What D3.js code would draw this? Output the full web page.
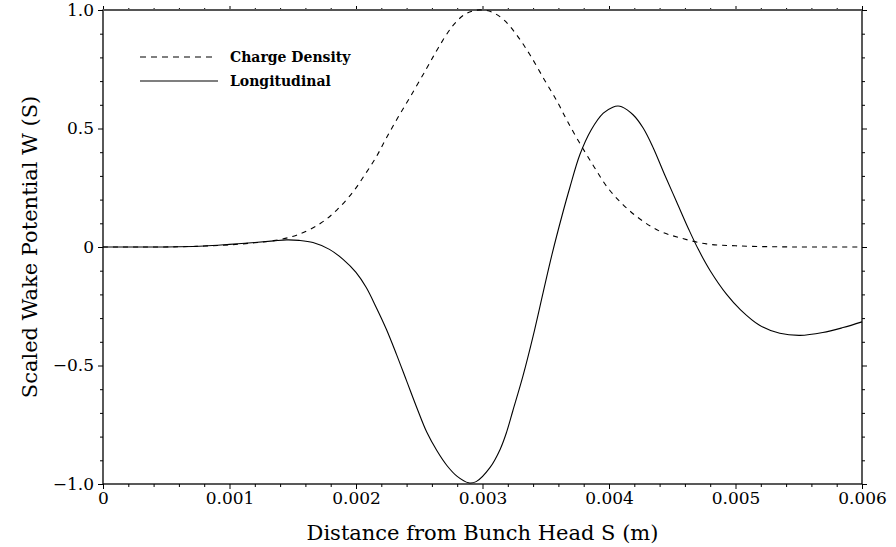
<!DOCTYPE html>
<html>
<head>
<meta charset="utf-8">
<script src="https://cdn.jsdelivr.net/npm/d3@7"></script>
<style>
  body { margin: 0; background: #fff; }
  svg { display: block; }
</style>
</head>
<body>
<div id="wake-chart"></div>
<script>
// Distance from bunch head, in mm (converted to m below)
const chargeS = [0, 0.3, 0.6, 0.8, 1.0, 1.2, 1.35, 1.53, 1.72, 1.85, 1.98, 2.07, 2.16, 2.24, 2.33, 2.43,
  2.56, 2.65, 2.76, 2.85, 2.93, 3.0, 3.08, 3.17, 3.27, 3.375, 3.49, 3.59, 3.665, 3.76, 3.88, 3.99,
  4.11, 4.25, 4.40, 4.56, 4.77, 5.0, 5.3, 5.6, 6.0];
const chargeW = [0, 0, 0.001, 0.004, 0.009, 0.018, 0.027, 0.05, 0.10, 0.157, 0.235, 0.305, 0.38, 0.46, 0.545, 0.635,
  0.755, 0.84, 0.93, 0.978, 0.997, 1.0, 0.99, 0.958, 0.895, 0.811, 0.705, 0.614, 0.537, 0.446, 0.34, 0.25,
  0.179, 0.116, 0.067, 0.039, 0.013, 0.005, 0.001, 0, 0];

const longS = [0, 0.3, 0.6, 0.8, 1.0, 1.2, 1.35, 1.45, 1.55, 1.66, 1.79, 1.9, 2.0, 2.08, 2.16, 2.24, 2.32,
  2.40, 2.48, 2.56, 2.64, 2.72, 2.80, 2.89, 2.95, 3.06, 3.14, 3.19, 3.24, 3.32, 3.40, 3.48, 3.55,
  3.63, 3.69, 3.77, 3.86, 3.955, 4.03, 4.07, 4.10, 4.19, 4.27, 4.35, 4.44, 4.535, 4.63, 4.706,
  4.80, 4.93, 5.04, 5.19, 5.35, 5.51, 5.69, 5.85, 6.0];
const longW = [0, 0, 0.001, 0.004, 0.011, 0.019, 0.026, 0.03, 0.028, 0.019, -0.01, -0.053, -0.107, -0.17, -0.255, -0.347, -0.453,
  -0.565, -0.677, -0.782, -0.86, -0.923, -0.968, -0.995, -0.99, -0.93, -0.853, -0.782, -0.691, -0.544, -0.376, -0.19, -0.03,
  0.135, 0.25, 0.39, 0.495, 0.565, 0.59, 0.595, 0.592, 0.558, 0.502, 0.418, 0.305, 0.19, 0.075, -0.01,
  -0.10, -0.20, -0.265, -0.33, -0.364, -0.373, -0.361, -0.34, -0.316];

const xMajor = [0, 0.001, 0.002, 0.003, 0.004, 0.005, 0.006];
const xLabels = ["0", "0.001", "0.002", "0.003", "0.004", "0.005", "0.006"];
const yMajor = [-1, -0.5, 0, 0.5, 1];
const yLabels = ["\u22121.0", "\u22120.5", "0", "0.5", "1.0"];

const legendNames = ["Charge Density", "Longitudinal"];

const width = 896;
const height = 547;
const marginTop = 10;
const marginRight = 34;
const marginBottom = 63;
const marginLeft = 103;

const x = d3.scaleLinear([0, 0.006], [marginLeft, width - marginRight]);
const y = d3.scaleLinear([-1, 1], [height - marginBottom, marginTop]);

const xMinor = d3.range(0, 31).map(i => i * 0.0002).filter(v => !xMajor.some(m => Math.abs(m - v) < 1e-9));
const yMinor = d3.range(-10, 11).map(i => i / 10).filter(v => !yMajor.some(m => Math.abs(m - v) < 1e-9));

const svg = d3.select("div#wake-chart")
  .append("svg")
  .attr("width", width)
  .attr("height", height)
  .attr("viewBox", [0, 0, width, height]);

const font = "'DejaVu Serif', serif";

// ticks on all four sides, pointing outward
const tickAxis = (axisFn, scale, values, size, transform) => {
  svg.append("g")
    .attr("transform", transform)
    .call(axisFn(scale).tickValues(values).tickSize(size).tickFormat(""))
    .call(g => g.select(".domain").remove())
    .call(g => g.selectAll(".tick line").attr("stroke", "#000").attr("stroke-width", 1));
};
const bottomY = height - marginBottom;
const rightX = width - marginRight;
tickAxis(d3.axisBottom, x, xMinor, 3, `translate(0,${bottomY})`);
tickAxis(d3.axisBottom, x, xMajor, 5, `translate(0,${bottomY})`);
tickAxis(d3.axisTop, x, xMinor, 2, `translate(0,${marginTop})`);
tickAxis(d3.axisTop, x, xMajor, 4, `translate(0,${marginTop})`);
tickAxis(d3.axisLeft, y, yMinor, 3, `translate(${marginLeft},0)`);
tickAxis(d3.axisLeft, y, yMajor, 5, `translate(${marginLeft},0)`);
tickAxis(d3.axisRight, y, yMinor, 3, `translate(${rightX},0)`);
tickAxis(d3.axisRight, y, yMajor, 5, `translate(${rightX},0)`);

// tick labels
svg.append("g")
  .attr("transform", `translate(0,${bottomY})`)
  .call(d3.axisBottom(x).tickValues(xMajor).tickSize(0).tickPadding(8)
    .tickFormat((d, i) => xLabels[i]))
  .call(g => g.select(".domain").remove())
  .call(g => g.selectAll("text").attr("font-family", font).attr("font-size", 17).attr("fill", "#000"));

svg.append("g")
  .attr("transform", `translate(${marginLeft},0)`)
  .call(d3.axisLeft(y).tickValues(yMajor).tickSize(0).tickPadding(9)
    .tickFormat((d, i) => yLabels[i]))
  .call(g => g.select(".domain").remove())
  .call(g => g.selectAll("text").attr("font-family", font).attr("font-size", 17).attr("fill", "#000"));

// frame
svg.append("rect")
  .attr("x", marginLeft)
  .attr("y", marginTop)
  .attr("width", rightX - marginLeft)
  .attr("height", bottomY - marginTop)
  .attr("fill", "none")
  .attr("stroke", "#000")
  .attr("stroke-width", 1.3);
svg.append("line")
  .attr("x1", marginLeft).attr("x2", rightX)
  .attr("y1", marginTop).attr("y2", marginTop)
  .attr("stroke", "#555")
  .attr("stroke-width", 2);

// axis titles
svg.append("text")
  .attr("x", (marginLeft + rightX) / 2)
  .attr("y", 540)
  .attr("text-anchor", "middle")
  .attr("font-family", font)
  .attr("font-size", 21)
  .text("Distance from Bunch Head S (m)");

svg.append("text")
  .attr("transform", `translate(37,${(marginTop + bottomY) / 2}) rotate(-90)`)
  .attr("text-anchor", "middle")
  .attr("font-family", font)
  .attr("font-size", 21)
  .text("Scaled Wake Potential W (S)");

// curves
const line = d3.line()
  .x(d => x(d[0] / 1000))
  .y(d => y(d[1]))
  .curve(d3.curveCatmullRom.alpha(0.5));

const charge = chargeS.map((s, i) => [s, chargeW[i]]);
const longitudinal = longS.map((s, i) => [s, longW[i]]);

const plot = svg.append("g")
  .attr("fill", "none")
  .attr("stroke", "#000")
  .attr("stroke-width", 1.1);

plot.append("path")
  .attr("d", line(charge))
  .attr("stroke-dasharray", "5,5");

plot.append("path")
  .attr("d", line(longitudinal));

// legend
const legend = svg.append("g")
  .attr("font-family", font)
  .attr("font-size", 14)
  .attr("font-weight", "bold");

legendNames.forEach((name, i) => {
  const ly = 57 + i * 24;
  legend.append("line")
    .attr("x1", 140).attr("x2", i === 0 ? 212 : 218)
    .attr("y1", ly).attr("y2", ly)
    .attr("stroke", "#000")
    .attr("stroke-width", 1.1)
    .attr("stroke-dasharray", i === 0 ? "6,5" : null);
  legend.append("text")
    .attr("x", 230)
    .attr("y", ly)
    .attr("dy", "0.35em")
    .text(name);
});
</script>
</body>
</html>
